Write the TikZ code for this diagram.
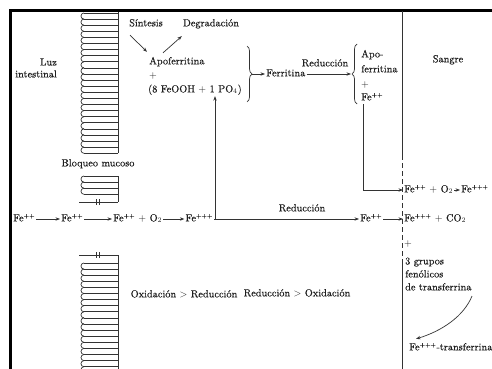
\documentclass[tikz,border=0pt]{standalone}
\usepackage{fontspec}
\setmainfont{Latin Modern Roman}[FakeBold=0.3]
\usetikzlibrary{arrows.meta,decorations.pathreplacing,calc}
\definecolor{ink}{HTML}{1E1E1E}
\definecolor{lin}{HTML}{333333}
\newcommand\chg[1]{\textsuperscript{\fontsize{5.8}{6}\selectfont #1}}
\begin{document}
\begin{tikzpicture}[x=1pt,y=-1pt,
  tx/.style={font=\fontsize{10.3}{12}\selectfont,text=ink,inner sep=1pt},
  txt/.style={tx,text height=7.3pt,text depth=2.6pt},
  arr/.style={draw=lin,line width=0.7pt,-{Stealth[length=4.5pt,width=3.4pt]}},
  ln/.style={draw=lin,line width=0.7pt},
  brc/.style={ln,decorate,decoration={brace,amplitude=5pt}},
  tick/.style={ln}]
\useasboundingbox (0,0) rectangle (492,369);
\fill[white] (0,0) rectangle (492,369);
% frame
\draw[black,line width=2.4pt] (10.5,369) -- (10.5,10.5) -- (492,10.5);

% cilia: upper block
\draw[ln] (118,12) -- (118,153.3);
\foreach \i in {0,...,23}{\draw[ln] (118,13+6.1*\i) -- (84,13+6.1*\i);}
\foreach \i in {0,...,22}{\draw[ln] (84,13+6.1*\i) arc[start angle=90,end angle=270,radius=3.05pt];}
% small block
\draw[ln] (118,176) -- (118,202);
\foreach \i in {0,...,3}{\draw[ln] (118,176+6.1*\i) -- (84,176+6.1*\i);}
\foreach \i in {0,...,2}{\draw[ln] (84,176+6.1*\i) arc[start angle=90,end angle=270,radius=3.05pt];}
\draw[ln] (79,202) -- (118,202);
\draw[tick] (96,199) -- (96,205) (99,199) -- (99,205);
% lower block
\draw[ln] (118,255) -- (118,369);
\draw[ln] (79,255) -- (118,255);
\draw[tick] (96,252) -- (96,258) (99,252) -- (99,258);
\foreach \i in {0,...,17}{\draw[ln] (118,263+6.1*\i) -- (84,263+6.1*\i);}
\foreach \i in {0,...,17}{\draw[ln] (84,263+6.1*\i) arc[start angle=90,end angle=270,radius=3.05pt];}

% blood boundary
\draw[ln] (402,11) -- (402,155);
\draw[ln,dash pattern=on 5pt off 3pt] (402,155) -- (402,262);
\draw[ln] (402,262) -- (402,369);

% texts
\node[tx,align=right,anchor=east] (luz) at (58,68) {Luz\\intestinal};
\node[txt] (bloq) at (98,164) {Bloqueo mucoso};
\node[txt] (sang) at (448,60) {Sangre};
\node[txt] (sint) at (146,24) {Síntesis};
\node[txt] (degr) at (211,24) {Degradación};
\node[txt,anchor=west] (apo) at (148,62) {Apoferritina};
\node[txt,anchor=west] (pl1) at (148,76) {$+$};
\node[txt,anchor=west] (feooh) at (147,90) {(8 FeOOH $+$ 1 PO$_4$)};
\node[txt,anchor=west] (ferr) at (265,74) {Ferritina};
\node[txt] (red1) at (325,64) {Reducción};
\node[txt,anchor=west] (a2a) at (360,55) {Apo-};
\node[txt,anchor=west] (a2b) at (360,70) {ferritina};
\node[txt,anchor=west] (a2c) at (360,85) {$+$};
\node[txt,anchor=west] (a2d) at (360,98) {Fe\chg{++}};
\node[txt,anchor=west] (fe7) at (403,190) {Fe\chg{++} $+$ O$_2$};
\node[txt,anchor=west] (fe8) at (460,190) {Fe\chg{+++}};

\node[txt,anchor=west] (fe1) at (12,219) {Fe\chg{++}};
\node[txt,anchor=west] (fe2) at (60,219) {Fe\chg{++}};
\node[txt,anchor=west] (fe3) at (112,219) {Fe\chg{++} $+$ O$_2$};
\node[txt,anchor=east] (fe4) at (214,219) {Fe\chg{+++}};
\node[txt,anchor=west] (fe5) at (359,219) {Fe\chg{++}};
\node[txt,anchor=west] (fe6) at (403,219) {Fe\chg{+++} $+$ CO$_2$};
\node[txt] (red2) at (302,209) {Reducción};
\node[txt,anchor=west] (pl2) at (403,244) {$+$};
\node[tx,anchor=west,align=left] (grp) at (404,274) {3 grupos\\[1pt]fenólicos\\[1pt]de transferrina};
\node[txt,anchor=west] (tf) at (408,348) {Fe\chg{+++}-transferrina};
\node[txt] (oxr) at (184,295) {Oxidación {$>$} Reducción};
\node[txt] (rox) at (297,294) {Reducción {$>$} Oxidación};

% braces
\coordinate (b1t) at (247,46);
\coordinate (b1b) at (247,102);
\draw[brc] (b1t) -- (b1b);
\coordinate (b1tip) at (252,74);
\coordinate (b2t) at (357,44);
\coordinate (b2b) at (357,104);
\draw[brc] (b2b) -- (b2t);
\coordinate (b2tip) at (351,74);

% connectors
\draw[arr] ([shift={(2,5)}]sint.south west) -- ([shift={(-1,-4)}]apo.north west);
\draw[arr] ([shift={(15,-3)}]apo.north west) -- ([shift={(0,6)}]degr.south west);
\draw[arr] (b1tip) -- (ferr.west);
\draw[arr] (ferr.east) -- (b2tip);
\draw[arr] ([xshift=3pt]a2d.south west) |- (fe7.west);
\draw[arr] (fe7.east) -- (fe8.west);

\draw[arr] (fe1.east) -- (fe2.west);
\draw[arr] (fe2.east) -- (fe3.west);
\draw[arr] (fe3.east) -- (fe4.west);
\coordinate (j1) at ($(fe4.east)+(1,0)$);
\draw[arr] (j1) -- (j1 |- feooh.south);
\draw[arr] (fe4.east) -- (fe5.west);
\draw[arr] (fe5.east) -- (fe6.west);
\coordinate (cs) at (472,296);
\draw[arr] (cs) .. controls (464,316) and (442,331) .. ([shift={(8,-3)}]tf.north west);
\end{tikzpicture}
\end{document}
